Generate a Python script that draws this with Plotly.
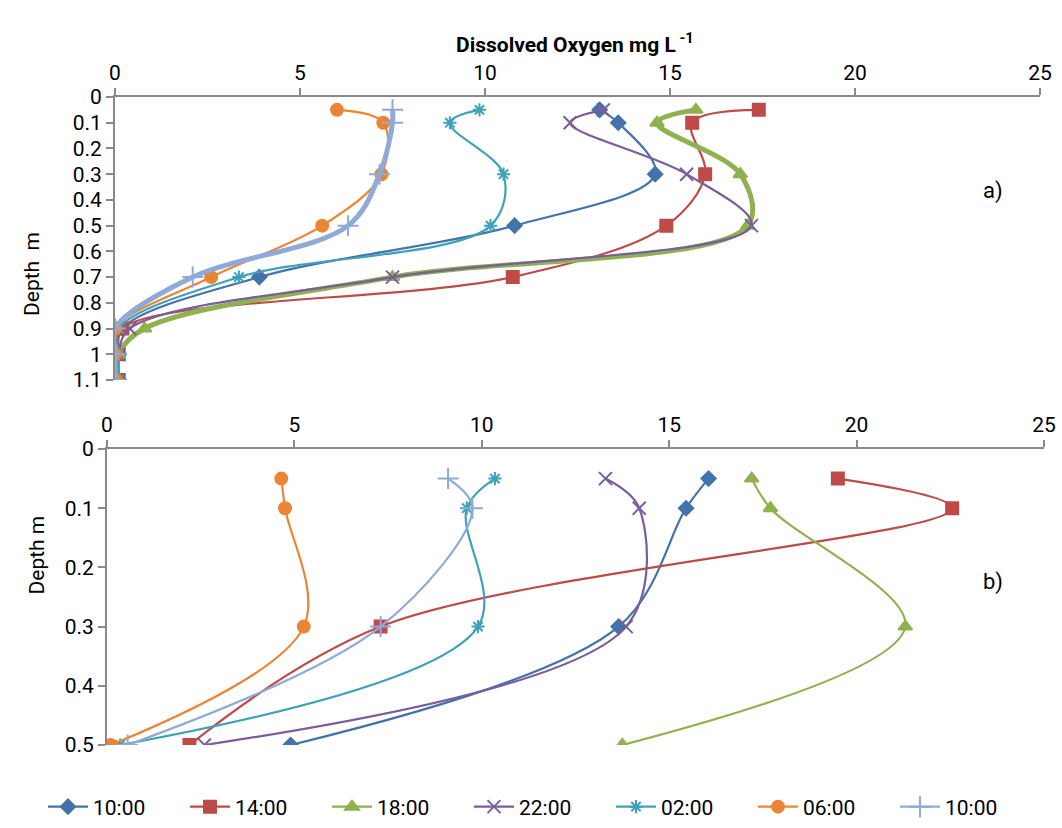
import plotly.graph_objects as go

# ---- data ----
series_names = ["10:00", "14:00", "18:00", "22:00", "02:00", "06:00", "10:00"]

depth_a = [0.05, 0.1, 0.3, 0.5, 0.7, 0.9, 1.0, 1.1]
do_a_1000 = [13.1, 13.6, 14.6, 10.8, 3.9, 0.2, 0.1, 0.1]
do_a_1400 = [17.4, 15.6, 15.95, 14.9, 10.75, 0.2, 0.1, 0.1]
do_a_1800 = [15.7, 14.65, 16.9, 17.1, 7.5, 0.8, 0.1, 0.1]
do_a_2200 = [13.2, 12.3, 15.45, 17.2, 7.5, 0.4, 0.1, 0.1]
do_a_0200 = [9.85, 9.05, 10.5, 10.15, 3.35, 0.1, 0.1, 0.1]
do_a_0600 = [6.0, 7.25, 7.2, 5.6, 2.6, 0.0, 0.0, 0.0]
do_a_1000b = [7.5, 7.5, 7.15, 6.3, 2.1, 0.0, 0.0, 0.0]

depth_b = [0.05, 0.1, 0.3, 0.5]
do_b_1000 = [16.05, 15.45, 13.65, 4.9]
do_b_1400 = [19.5, 22.55, 7.3, 2.2]
do_b_1800 = [17.2, 17.7, 21.3, 13.75]
do_b_2200 = [13.3, 14.2, 13.85, 2.6]
do_b_0200 = [10.35, 9.6, 9.9, 0.35]
do_b_0600 = [4.65, 4.75, 5.25, 0.1]
do_b_1000b = [9.1, 9.75, 7.3, 0.55]

x_ticks = [0, 5, 10, 15, 20, 25]

# ---- styles ----
colors = ["#4472AA", "#BE4B48", "#8FB14F", "#7A5D9C", "#3FA2BA", "#EB8535", "#8FAAD6"]
symbols = ["diamond", "square", "triangle-up", "x-thin-open", "asterisk-open", "circle", "cross-thin-open"]
msizes = [11, 12, 12, 13, 11, 12, 15]
widths_a = [2.2, 2.2, 5, 2.2, 2.2, 2.2, 5]
widths_b = [2.2] * 7

data_a = [do_a_1000, do_a_1400, do_a_1800, do_a_2200, do_a_0200, do_a_0600, do_a_1000b]
data_b = [do_b_1000, do_b_1400, do_b_1800, do_b_2200, do_b_0200, do_b_0600, do_b_1000b]

FONT = "Roboto, Liberation Sans, sans-serif"
W, H = 1062, 828

fig = go.Figure()

for i, name in enumerate(series_names):
    fig.add_trace(go.Scatter(
        x=data_a[i], y=depth_a, mode="lines+markers", name=name,
        line=dict(color=colors[i], width=widths_a[i], shape="spline", smoothing=1),
        marker=dict(symbol=symbols[i], size=msizes[i], color=colors[i],
                    line=dict(color=colors[i], width=2)),
        xaxis="x", yaxis="y", showlegend=False, legendgroup=str(i)))

for i, name in enumerate(series_names):
    fig.add_trace(go.Scatter(
        x=data_b[i], y=depth_b, mode="lines+markers", name=name,
        line=dict(color=colors[i], width=widths_b[i], shape="spline", smoothing=1),
        marker=dict(symbol=symbols[i], size=msizes[i], color=colors[i],
                    line=dict(color=colors[i], width=2)),
        xaxis="x2", yaxis="y2", showlegend=True, legendgroup=str(i)))

axis_common = dict(showgrid=False, zeroline=False, showline=True, linecolor="#898989",
                   linewidth=2, ticks="outside", tickcolor="#898989", ticklen=7, tickwidth=2,
                   automargin=False,
                   tickfont=dict(family=FONT, size=21, color="#000"))

fig.update_layout(
    template="none",
    width=W, height=H,
    margin=dict(l=0, r=0, t=0, b=0, pad=0, autoexpand=False),
    paper_bgcolor="white", plot_bgcolor="white",
    font=dict(family=FONT, size=21, color="#000"),
    xaxis=dict(domain=[115 / W, 1040 / W], range=[0, 25], side="top", tickvals=x_ticks,
               anchor="y", **axis_common),
    yaxis=dict(domain=[1 - 380 / H, 1 - 97 / H], range=[1.1, 0], dtick=0.1, tick0=0,
               anchor="x", **axis_common),
    xaxis2=dict(domain=[107 / W, 1044 / W], range=[0, 25], side="top", tickvals=x_ticks,
                anchor="y2", **axis_common),
    yaxis2=dict(domain=[1 - 745 / H, 1 - 449 / H], range=[0.5, 0], dtick=0.1, tick0=0,
                anchor="x2", **axis_common),
    legend=dict(orientation="h", x=540 / W, xanchor="center", y=1 - 807 / H, yanchor="middle",
                font=dict(family=FONT, size=21, color="#000"), itemwidth=40,
                entrywidth=87, entrywidthmode="pixels",
                bgcolor="rgba(0,0,0,0)"),
    annotations=[
        dict(text="<b>Dissolved Oxygen mg L<sup> -1</sup></b>", x=575 / W, y=1 - 27 / H,
             xref="paper", yref="paper", showarrow=False,
             font=dict(family=FONT, size=21, color="#000")),
        dict(text="Depth  m", x=18 / W, y=1 - 230 / H, xref="paper", yref="paper",
             showarrow=False, textangle=-90, font=dict(family=FONT, size=21, color="#000")),
        dict(text="Depth m", x=22 / W, y=1 - 597 / H, xref="paper", yref="paper",
             showarrow=False, textangle=-90, font=dict(family=FONT, size=21, color="#000")),
        dict(text="a)", x=1005 / W, y=1 - 176 / H, xref="paper", yref="paper",
             showarrow=False, font=dict(family=FONT, size=22, color="#000")),
        dict(text="b)", x=1005 / W, y=1 - 597 / H, xref="paper", yref="paper",
             showarrow=False, font=dict(family=FONT, size=22, color="#000")),
    ],
)

fig.write_html("out.html")
